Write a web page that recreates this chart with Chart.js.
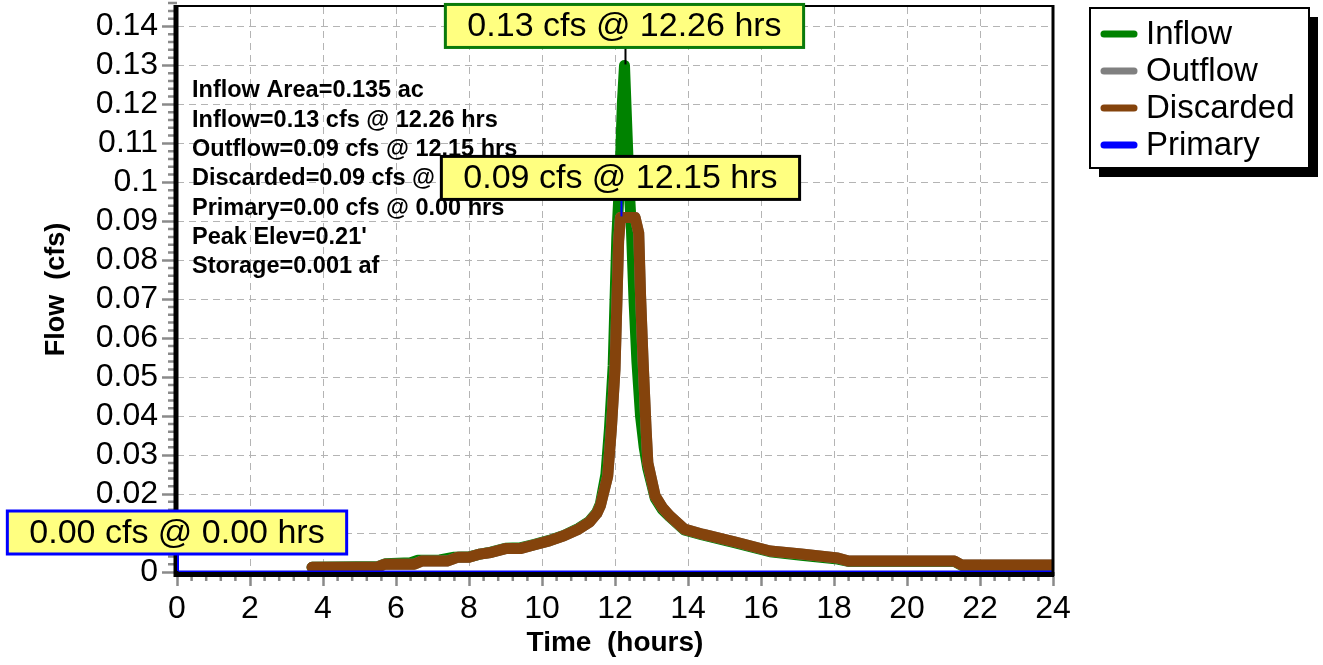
<!DOCTYPE html>
<html>
<head>
<meta charset="utf-8">
<title>Pond hydrograph</title>
<script src="https://cdn.jsdelivr.net/npm/chart.js@4.4.1/dist/chart.umd.min.js"></script>
<style>
    html, body { margin: 0; padding: 0; background: #ffffff; }
    #wrap { width: 1323px; height: 665px; }
</style>
</head>
<body>
<div id="wrap"><canvas id="pondChart" width="1323" height="665"></canvas></div>
<script>
console.log('Working...');

// Series names (legend order)
const seriesNames = ['Inflow', 'Outflow', 'Discarded', 'Primary'];

// Inflow hydrograph, hours / cfs
const inflowTime = [3.7, 5.5, 5.7, 6.4, 6.6, 7.2, 7.6, 8.0, 8.3, 8.6,
    9.0, 9.4, 9.8, 10.2, 10.6, 11.0, 11.3, 11.5, 11.6, 11.75,
    11.85, 11.95, 12.05, 12.15, 12.2, 12.26, 12.32, 12.38, 12.45, 12.52,
    12.6, 12.7, 12.8, 12.9, 13.1, 13.3, 13.5, 13.9, 14.4, 15.3,
    16.25, 17.1, 18.1, 18.4, 21.3, 21.5, 24.0];
const inflowFlow = [0.0012, 0.0014, 0.0021, 0.0024, 0.003, 0.0031, 0.0038, 0.0039, 0.0046, 0.0051,
    0.0061, 0.0062, 0.0071, 0.0081, 0.0094, 0.0112, 0.013, 0.0153, 0.0175, 0.025,
    0.037, 0.053, 0.086, 0.105, 0.12, 0.13, 0.115, 0.1, 0.088, 0.07,
    0.054, 0.04, 0.032, 0.0265, 0.019, 0.016, 0.0142, 0.0108, 0.0095, 0.0075,
    0.0052, 0.0043, 0.0033, 0.0027, 0.0027, 0.0017, 0.0017];

// Discarded (exfiltration), hours / cfs
const discardedTime = [3.7, 5.5, 5.7, 6.5, 6.7, 7.4, 7.7, 8.0, 8.3, 8.6,
    9.0, 9.4, 9.8, 10.2, 10.6, 11.0, 11.3, 11.5, 11.6, 11.8,
    11.9, 12.0, 12.1, 12.15, 12.55, 12.65, 12.7, 12.77, 12.85, 12.9,
    13.1, 13.3, 13.5, 13.9, 14.4, 15.3, 16.25, 17.1, 18.1, 18.4,
    21.3, 21.5, 24.0];
const discardedFlow = [0.0012, 0.0013, 0.002, 0.002, 0.0028, 0.0028, 0.0038, 0.0038, 0.0046, 0.005,
    0.006, 0.006, 0.007, 0.008, 0.0093, 0.011, 0.0128, 0.015, 0.017, 0.0246,
    0.0367, 0.052, 0.085, 0.091, 0.091, 0.087, 0.071, 0.054, 0.037, 0.028,
    0.0195, 0.0165, 0.0144, 0.011, 0.0097, 0.0077, 0.0054, 0.0046, 0.0036, 0.0028,
    0.0028, 0.0018, 0.0018];

// Outflow equals Discarded here (Primary stays at zero)
const outflowTime = discardedTime;
const outflowFlow = discardedFlow;

// Primary outlet
const primaryTime = [0, 24];
const primaryFlow = [0, 0];

// Axis ticks
const xTicks = [0, 2, 4, 6, 8, 10, 12, 14, 16, 18, 20, 22, 24];
const yTicks = [0, 0.01, 0.02, 0.03, 0.04, 0.05, 0.06, 0.07, 0.08, 0.09, 0.1, 0.11, 0.12, 0.13, 0.14];
const xMinorStep = 0.4;
const yMinorStep = 0.002;

// Peak callouts
const calloutText = ['0.13 cfs @ 12.26 hrs', '0.09 cfs @ 12.15 hrs', '0.00 cfs @ 0.00 hrs'];
const calloutTime = [12.26, 12.15, 0];
const calloutFlow = [0.13, 0.091, 0];

// Summary block
const summaryLines = [
    'Inflow Area=0.135 ac',
    'Inflow=0.13 cfs @ 12.26 hrs',
    'Outflow=0.09 cfs @ 12.15 hrs',
    'Discarded=0.09 cfs @ 12.15 hrs',
    'Primary=0.00 cfs @ 0.00 hrs',
    "Peak Elev=0.21'",
    'Storage=0.001 af'
];

// Colours
const colors = {
    inflow: '#008200',
    outflow: '#808080',
    discarded: '#84430c',
    primary: '#0000ff',
    grid: '#b4b4b4',
    tick: '#8a8a8a',
    calloutFill: '#ffff80'
};
const calloutBorder = ['#0a7a0a', '#000000', '#0000ff'];
const calloutStem = ['#000000', '#0000ff', '#0000ff'];
const legendColors = [colors.inflow, colors.outflow, colors.discarded, colors.primary];

const FONT = '"Liberation Sans", Arial, sans-serif';
Chart.defaults.font.family = FONT;
Chart.defaults.color = '#000000';

function toPoints(times, flows) {
    return times.map((t, i) => ({ x: t, y: flows[i] }));
}

// Frame, minor ticks, text block, callouts and legend
const extrasPlugin = {
    id: 'extras',
    afterDraw(chart) {
        const ctx = chart.ctx;
        const area = chart.chartArea;
        const xs = chart.scales.x;
        const ys = chart.scales.y;

        ctx.save();

        // minor ticks (skip the ones that sit on a major tick)
        ctx.strokeStyle = colors.tick;
        ctx.lineWidth = 2.5;
        ctx.beginPath();
        const yMinorCount = Math.round(ys.max / yMinorStep);
        for (let i = 1; i <= yMinorCount; i++) {
            if (i % 5 === 0) continue;
            const py = ys.getPixelForValue(i * yMinorStep);
            ctx.moveTo(area.left - 9, py);
            ctx.lineTo(area.left, py);
        }
        const xMinorCount = Math.round(xs.max / xMinorStep);
        for (let i = 1; i < xMinorCount; i++) {
            if (i % 5 === 0) continue;
            const px = xs.getPixelForValue(i * xMinorStep);
            ctx.moveTo(px, area.bottom);
            ctx.lineTo(px, area.bottom + 9);
        }
        ctx.stroke();

        // plot frame
        ctx.strokeStyle = '#000000';
        ctx.lineWidth = 2;
        ctx.beginPath();
        ctx.moveTo(area.left, area.top - 1);
        ctx.lineTo(area.right, area.top - 1);
        ctx.stroke();
        ctx.lineWidth = 3;
        ctx.beginPath();
        ctx.moveTo(area.right, area.top - 2);
        ctx.lineTo(area.right, area.bottom + 4);
        ctx.stroke();
        ctx.lineWidth = 5;
        ctx.beginPath();
        ctx.moveTo(area.left - 1, area.top - 2);
        ctx.lineTo(area.left - 1, area.bottom + 5);
        ctx.stroke();
        ctx.lineWidth = 5;
        ctx.beginPath();
        ctx.moveTo(area.left - 3, area.bottom + 2.5);
        ctx.lineTo(area.right + 1, area.bottom + 2.5);
        ctx.stroke();

        // summary text
        ctx.fillStyle = '#000000';
        ctx.font = 'bold 23.5px ' + FONT;
        ctx.textAlign = 'left';
        ctx.textBaseline = 'middle';
        summaryLines.forEach((line, i) => {
            ctx.fillText(line, 192, 91 + i * 29.3);
        });

        // callouts
        ctx.font = '34px ' + FONT;
        ctx.textAlign = 'center';
        calloutText.forEach((text, i) => {
            const px = xs.getPixelForValue(calloutTime[i]);
            const py = ys.getPixelForValue(calloutFlow[i]);
            const w = ctx.measureText(text).width + 44;
            const h = 43;
            const bottom = py - 18;
            const top = bottom - h;

            ctx.strokeStyle = calloutStem[i];
            ctx.lineWidth = 2;
            ctx.beginPath();
            ctx.moveTo(px + 1, bottom);
            ctx.lineTo(px + 1, py - 1);
            ctx.stroke();

            ctx.fillStyle = colors.calloutFill;
            ctx.fillRect(px - w / 2, top, w, h);
            ctx.strokeStyle = calloutBorder[i];
            ctx.lineWidth = 3;
            ctx.strokeRect(px - w / 2, top, w, h);
            ctx.fillStyle = '#000000';
            ctx.fillText(text, px, top + h / 2 + 1);
        });

        // legend with drop shadow
        const lx = 1090, ly = 8, lw = 219, lh = 160;
        ctx.fillStyle = '#000000';
        ctx.fillRect(lx + 9, ly + 9, lw, lh);
        ctx.fillStyle = '#ffffff';
        ctx.fillRect(lx, ly, lw, lh);
        ctx.strokeStyle = '#000000';
        ctx.lineWidth = 2;
        ctx.strokeRect(lx, ly, lw, lh);
        ctx.font = '33px ' + FONT;
        ctx.textAlign = 'left';
        ctx.lineCap = 'round';
        seriesNames.forEach((name, i) => {
            const ry = 34 + i * 37;
            ctx.strokeStyle = legendColors[i];
            ctx.lineWidth = 7;
            ctx.beginPath();
            ctx.moveTo(1104, ry);
            ctx.lineTo(1134, ry);
            ctx.stroke();
            ctx.fillStyle = '#000000';
            ctx.fillText(name, 1146, ry + 1);
        });

        ctx.restore();
    }
};

const ctx = document.getElementById('pondChart').getContext('2d');

const pondChart = new Chart(ctx, {
    type: 'line',
    data: {
        datasets: [
            {
                label: seriesNames[0],
                data: toPoints(inflowTime, inflowFlow),
                borderColor: colors.inflow,
                borderWidth: 11,
                order: 3
            },
            {
                label: seriesNames[1],
                data: toPoints(outflowTime, outflowFlow),
                borderColor: colors.outflow,
                borderWidth: 11,
                order: 2
            },
            {
                label: seriesNames[2],
                data: toPoints(discardedTime, discardedFlow),
                borderColor: colors.discarded,
                borderWidth: 11,
                order: 1
            },
            {
                label: seriesNames[3],
                data: toPoints(primaryTime, primaryFlow),
                borderColor: colors.primary,
                borderWidth: 3,
                order: 0
            }
        ]
    },
    options: {
        responsive: false,
        animation: false,
        devicePixelRatio: 1,
        layout: {
            autoPadding: false,
            padding: { left: 0, top: 7, right: 270, bottom: 0 }
        },
        elements: {
            line: { tension: 0, fill: false, borderCapStyle: 'round', borderJoinStyle: 'round' },
            point: { radius: 0 }
        },
        datasets: {
            line: { clip: 0 }
        },
        plugins: {
            legend: { display: false },
            tooltip: { enabled: false }
        },
        scales: {
            x: {
                type: 'linear',
                min: 0,
                max: 24,
                afterBuildTicks: (scale) => {
                    scale.ticks = xTicks.map(v => ({ value: v }));
                },
                afterFit: (scale) => {
                    scale.height = 93;
                    scale.paddingLeft = 0;
                    scale.paddingRight = 0;
                },
                ticks: {
                    autoSkip: false,
                    maxRotation: 0,
                    padding: 4,
                    color: '#000000',
                    font: { size: 32 },
                    callback: (value) => String(value)
                },
                grid: {
                    color: colors.grid,
                    lineWidth: 1,
                    tickColor: colors.tick,
                    tickLength: 14,
                    tickWidth: 2.5
                },
                border: { display: false, dash: [7, 5] },
                title: {
                    display: true,
                    text: 'Time  (hours)',
                    color: '#000000',
                    font: { size: 28, weight: 'bold' },
                    padding: { top: 0, bottom: 5 }
                }
            },
            y: {
                type: 'linear',
                min: 0,
                max: 0.145,
                afterBuildTicks: (scale) => {
                    scale.ticks = yTicks.map(v => ({ value: v }));
                },
                afterFit: (scale) => {
                    scale.width = 177;
                    scale.paddingTop = 0;
                    scale.paddingBottom = 0;
                },
                ticks: {
                    autoSkip: false,
                    padding: 4,
                    color: '#000000',
                    font: { size: 32 },
                    callback: (value) => String(value)
                },
                grid: {
                    color: colors.grid,
                    lineWidth: 1,
                    tickColor: colors.tick,
                    tickLength: 15,
                    tickWidth: 2.5
                },
                border: { display: false, dash: [7, 5] },
                title: {
                    display: true,
                    text: 'Flow  (cfs)',
                    color: '#000000',
                    font: { size: 27, weight: 'bold' },
                    padding: { top: 40, bottom: 0 }
                }
            }
        }
    },
    plugins: [extrasPlugin]
});
</script>
</body>
</html>
